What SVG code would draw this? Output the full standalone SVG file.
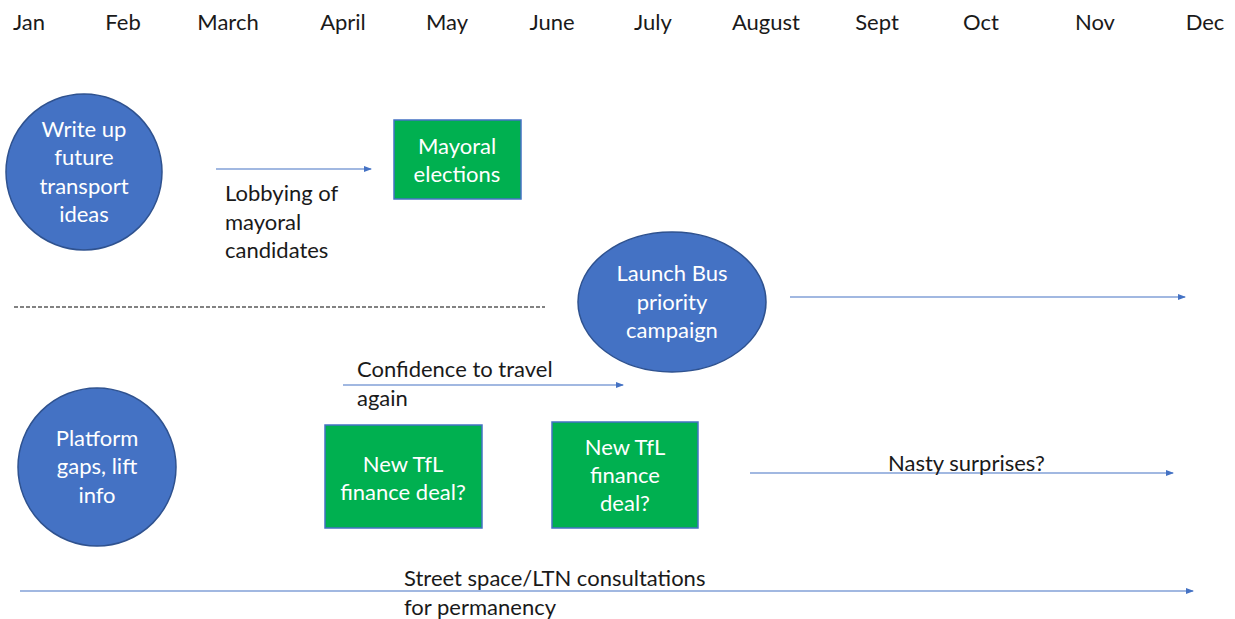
<svg xmlns="http://www.w3.org/2000/svg" width="1235" height="619" viewBox="0 0 1235 619">
<defs>
<style>
text{font-family:Lato,"Open Sans","Liberation Sans",sans-serif;font-size:22px;}
.m{fill:#1a1a1a;text-anchor:middle;}
.l{fill:#1a1a1a;}
.w{fill:#ffffff;text-anchor:middle;}
.c{fill:#4472C4;stroke:#2F528F;stroke-width:1.5;}
.g{fill:#00B050;stroke:#4472C4;stroke-width:1.5;}
.a{stroke:#4472C4;stroke-width:1.2;fill:none;marker-end:url(#ah);}
</style>
<marker id="ah" markerWidth="8" markerHeight="8" refX="7" refY="4" orient="auto" markerUnits="userSpaceOnUse">
<path d="M0,1 L8,4 L0,7 Z" fill="#4472C4"/>
</marker>
</defs>
<rect width="1235" height="619" fill="#ffffff"/>
<g id="months">
<text class="m" x="29" y="30">Jan</text>
<text class="m" x="123" y="30">Feb</text>
<text class="m" x="228" y="30">March</text>
<text class="m" x="343" y="30">April</text>
<text class="m" x="447" y="30">May</text>
<text class="m" x="552" y="30">June</text>
<text class="m" x="653" y="30">July</text>
<text class="m" x="766" y="30">August</text>
<text class="m" x="877" y="30">Sept</text>
<text class="m" x="981" y="30">Oct</text>
<text class="m" x="1095" y="30">Nov</text>
<text class="m" x="1205" y="30">Dec</text>
</g>
<g id="connectors">
<line class="a" x1="216" y1="169" x2="371" y2="169"/>
<line x1="14" y1="307" x2="545" y2="307" stroke="#5a5a5a" stroke-width="1.5" stroke-dasharray="4,2"/>
<line class="a" x1="790" y1="297" x2="1185" y2="297"/>
<line class="a" x1="343" y1="385" x2="623" y2="385"/>
<line class="a" x1="750" y1="473" x2="1173" y2="473"/>
<line class="a" x1="20" y1="591" x2="1193" y2="591"/>
</g>
<g id="labels">
<text class="l" x="225" y="201">Lobbying of</text>
<text class="l" x="225" y="230">mayoral</text>
<text class="l" x="225" y="258">candidates</text>
<text class="l" x="357" y="377">Confidence to travel</text>
<text class="l" x="357" y="406">again</text>
<text class="l" x="888" y="471">Nasty surprises?</text>
<text class="l" x="404" y="586">Street space/LTN consultations</text>
<text class="l" x="404" y="615">for permanency</text>
</g>
<g id="write-up">
<circle class="c" cx="84" cy="172" r="78"/>
<text class="w" x="84" y="137">Write up</text>
<text class="w" x="84" y="165">future</text>
<text class="w" x="84" y="194">transport</text>
<text class="w" x="84" y="222">ideas</text>
</g>
<g id="mayoral-elections">
<rect class="g" x="394" y="120" width="127" height="79"/>
<text class="w" x="457" y="154">Mayoral</text>
<text class="w" x="457" y="182">elections</text>
</g>
<g id="launch-bus">
<ellipse class="c" cx="672" cy="302" rx="94" ry="70"/>
<text class="w" x="672" y="281">Launch Bus</text>
<text class="w" x="672" y="310">priority</text>
<text class="w" x="672" y="338">campaign</text>
</g>
<g id="platform">
<circle class="c" cx="97" cy="467" r="79"/>
<text class="w" x="97" y="446">Platform</text>
<text class="w" x="97" y="474">gaps, lift</text>
<text class="w" x="97" y="503">info</text>
</g>
<g id="tfl-deal-1">
<rect class="g" x="325" y="425" width="157" height="103"/>
<text class="w" x="403" y="472">New TfL</text>
<text class="w" x="403" y="500">finance deal?</text>
</g>
<g id="tfl-deal-2">
<rect class="g" x="552" y="422" width="146" height="106"/>
<text class="w" x="625" y="455">New TfL</text>
<text class="w" x="625" y="483">finance</text>
<text class="w" x="625" y="511">deal?</text>
</g>
</svg>
